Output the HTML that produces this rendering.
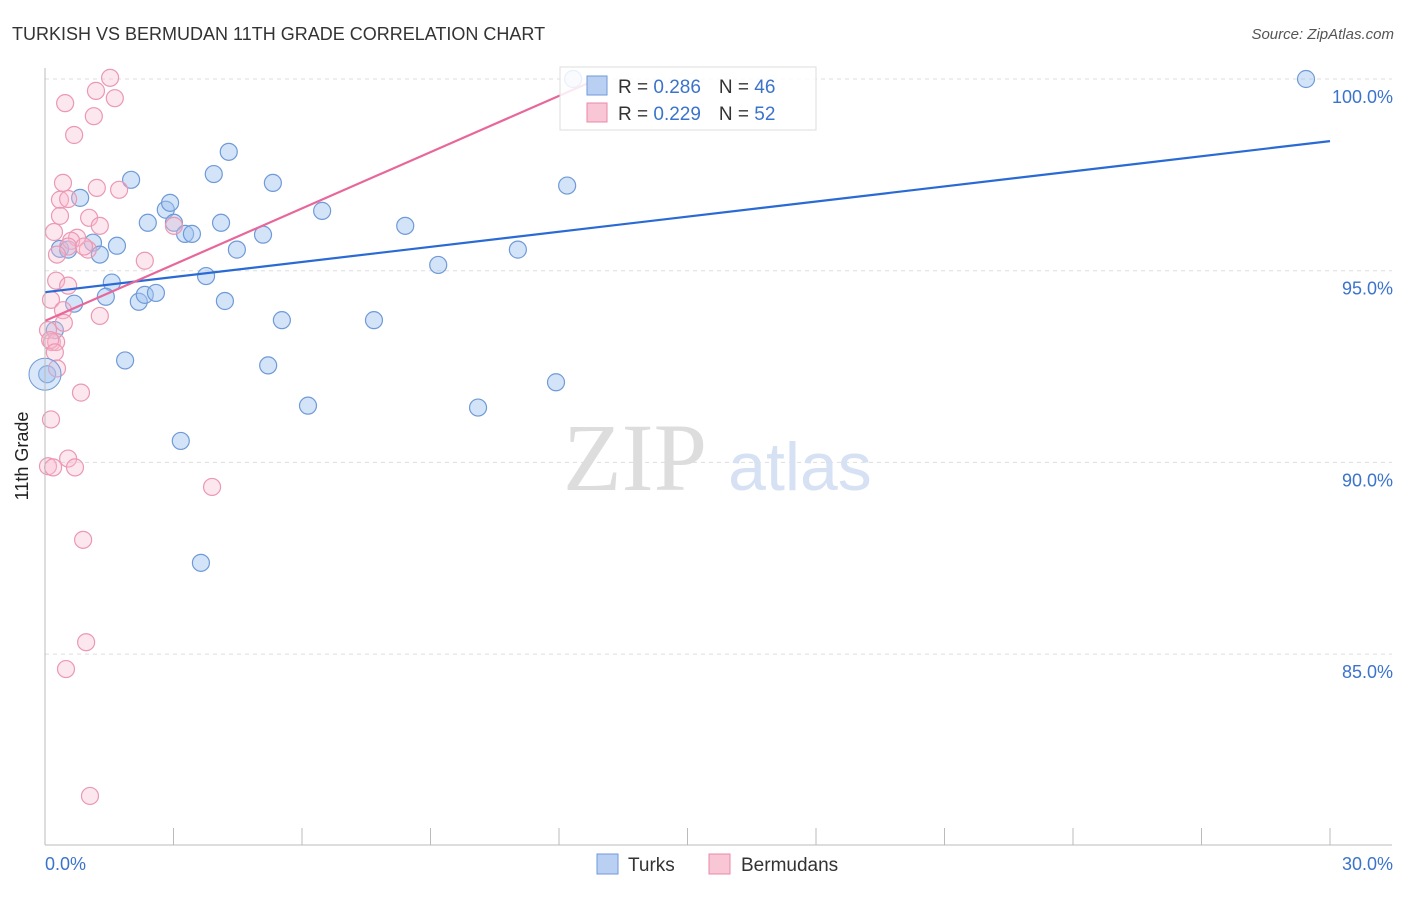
<!DOCTYPE html>
<html><head><meta charset="utf-8"><style>
body{margin:0;background:#fff;font-family:"Liberation Sans",sans-serif}
svg text{font-family:"Liberation Sans",sans-serif}
</style></head><body>
<svg width="1406" height="892" xmlns="http://www.w3.org/2000/svg">
<text x="12" y="40" font-size="18" fill="#333">TURKISH VS BERMUDAN 11TH GRADE CORRELATION CHART</text>
<text x="1394" y="39" font-size="15" fill="#555" text-anchor="end" font-style="italic">Source: ZipAtlas.com</text>
<g id="grid"></g>
<text x="635" y="490" font-size="96" fill="#ddd" text-anchor="middle" style="font-family:'Liberation Serif',serif">ZIP</text>
<text x="800" y="490" font-size="68" fill="#d6e2f3" text-anchor="middle">atlas</text>
<g id="pts"></g>
<g id="lines"></g>
<line x1="45" y1="68" x2="45" y2="845" stroke="#bbb"/>
<line x1="45" y1="845" x2="1392" y2="845" stroke="#bbb"/>
<text x="28" y="456" font-size="18" fill="#222" text-anchor="middle" transform="rotate(-90 28 456)">11th Grade</text>
<text x="45" y="870" font-size="18" fill="#3b73cc">0.0%</text>
<text x="1393" y="870" font-size="18" fill="#3b73cc" text-anchor="end">30.0%</text>
<g>
<rect x="560" y="67" width="256" height="63" fill="#fff" fill-opacity="0.85" stroke="#ddd"/>
<rect x="587" y="76" width="20" height="19" fill="#b9d0f2" stroke="#6f9ad8"/>
<rect x="587" y="103" width="20" height="19" fill="#f9c6d5" stroke="#e88aa8"/>
<text x="618" y="93" font-size="19" fill="#333">R = <tspan fill="#3b73cc">0.286</tspan><tspan dx="18">N = </tspan><tspan fill="#3b73cc">46</tspan></text>
<text x="618" y="120" font-size="19" fill="#333">R = <tspan fill="#3b73cc">0.229</tspan><tspan dx="18">N = </tspan><tspan fill="#3b73cc">52</tspan></text>
</g>
<g><rect x="597" y="854" width="21" height="20" fill="#b9d0f2" stroke="#6f9ad8"/><text x="628" y="871" font-size="19" fill="#333">Turks</text></g>
<g><rect x="709" y="854" width="21" height="20" fill="#f9c6d5" stroke="#e88aa8"/><text x="741" y="871" font-size="19" fill="#333">Bermudans</text></g>
</svg>
<script>
const yTicks=[100,95,90,85];
const yTickLabels=["100.0%","95.0%","90.0%","85.0%"];
const turksX=[0.82,2.01,2.82,2.92,2.40,3.01,3.27,3.43,3.94,4.29,4.11,4.48,5.32,5.09,6.47,8.41,9.18,11.04,12.19,29.44,12.33,0.35,0.54,1.12,1.68,1.28,1.56,1.42,0.68,2.19,2.33,2.59,3.76,4.20,5.53,7.68,1.87,5.21,11.93,6.14,10.11,3.17,3.64,0.23,0.05];
const turksY=[96.90,97.37,96.59,96.77,96.25,96.25,95.96,95.96,97.52,98.10,96.25,95.55,97.29,95.94,96.56,96.17,95.15,95.55,97.22,100.0,100.0,95.57,95.55,95.73,95.65,95.42,94.69,94.32,94.14,94.19,94.37,94.42,94.86,94.21,93.71,93.71,92.66,92.53,92.09,91.48,91.43,90.56,87.38,93.45,92.30];
const bermX=[1.52,1.19,1.63,0.47,1.14,0.68,0.42,1.21,1.73,0.35,0.54,0.35,1.03,1.28,0.21,0.75,0.61,0.54,1.00,0.91,0.28,2.33,3.01,0.26,0.54,0.14,1.28,0.42,0.44,0.07,0.16,0.26,0.12,0.23,0.28,0.84,0.14,0.54,0.70,0.07,0.19,3.90,0.89,0.96,0.49,1.05];
const bermY=[100.03,99.69,99.50,99.37,99.03,98.54,97.29,97.16,97.11,96.85,96.87,96.43,96.38,96.17,96.01,95.86,95.78,95.63,95.55,95.63,95.42,95.26,96.17,94.74,94.61,94.24,93.82,93.97,93.64,93.45,93.14,93.14,93.19,92.87,92.45,91.82,91.12,90.10,89.87,89.90,89.87,89.36,87.98,85.31,84.61,81.30];
const lineX=[0,30];
const turksLine=[94.44,98.38];
const bermLineX=[0,12.96];
const bermLine=[93.69,100.03];
const X=v=>45+v/30*1285, Y=v=>79+(100-v)/5*191.7;
const NS="http://www.w3.org/2000/svg";
const mk=(t,a,p)=>{const e=document.createElementNS(NS,t);for(const k in a)e.setAttribute(k,a[k]);p.appendChild(e);return e;};
const grid=document.getElementById('grid');
yTicks.forEach((t,i)=>{
 const l=mk('line',{x1:45,x2:1392,y1:Y(t),y2:Y(t),stroke:'#ddd','stroke-dasharray':'4,4'},grid);
 
 
 const tx=mk('text',{x:1393,y:Y(t)+24,'font-size':18,fill:'#3b73cc','text-anchor':'end'},grid);
 tx.textContent=yTickLabels[i];
 
 
});
for(let i=1;i<=10;i++){const x=45+i*128.5;
 const l=mk('line',{x1:x,x2:x,y1:828,y2:845,stroke:'#bbb'},grid);
 
 }
const pts=document.getElementById('pts');
turksX.forEach((x,i)=>{const c=mk('circle',{cx:X(x),cy:Y(turksY[i]),r:8.5,fill:'rgba(160,195,240,0.45)',stroke:'#6f9ad8','stroke-width':1.2},pts);
 
 });
bermX.forEach((x,i)=>{const c=mk('circle',{cx:X(x),cy:Y(bermY[i]),r:8.5,fill:'rgba(248,185,205,0.35)',stroke:'#eb98b3','stroke-width':1.2},pts);
 
 });
const big=mk('circle',{cx:X(0),cy:Y(92.3),r:16,fill:'rgba(160,195,240,0.4)',stroke:'#6f9ad8'},pts);


const lines=document.getElementById('lines');
const l1=mk('line',{x1:X(lineX[0]),y1:Y(turksLine[0]),x2:X(lineX[1]),y2:Y(turksLine[1]),stroke:'#2a6ad4','stroke-width':2.2},lines);


const l2=mk('line',{x1:X(bermLineX[0]),y1:Y(bermLine[0]),x2:X(bermLineX[1]),y2:Y(bermLine[1]),stroke:'#e8679a','stroke-width':2.2},lines);


</script>
</body></html>
